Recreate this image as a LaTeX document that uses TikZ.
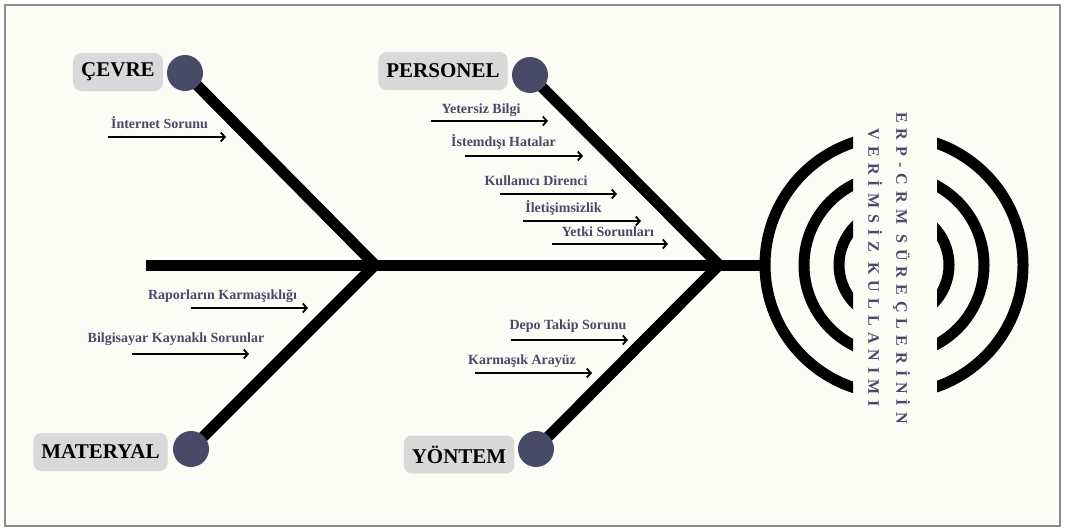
\documentclass[tikz,border=0pt]{standalone}
\usepackage{fontspec}
\setmainfont{Liberation Serif}
\newfontfamily\titlefont[LetterSpace=38]{Liberation Serif}
\usetikzlibrary{arrows.meta}
\definecolor{slate}{HTML}{484A68}
\definecolor{paper}{HTML}{FBFCF6}
\definecolor{tagc}{HTML}{D9D9D9}
\definecolor{framec}{HTML}{8C8C8C}
\pgfdeclarelayer{bg}
\pgfdeclarelayer{bones}
\pgfsetlayers{bg,bones,main}

% one cause: label node plus its arrow pointing at the bone
\newcommand\causeitem[7]{%
  \node[cause] (#1) at (#3,#4) {#2};
  \coordinate (#1-from) at (#5,#7);
  \coordinate (#1-to) at (#6,#7);
  \draw[ray] (#1-from) -- (#1-to);}

\begin{document}
\begin{tikzpicture}[x=1pt,y=-1pt,
  bone/.style={line width=11pt, line cap=butt, line join=miter},
  head/.style={circle, fill=slate, minimum size=36pt, inner sep=0pt},
  tag/.style={rounded corners=8pt, fill=tagc, text=black,
    font=\bfseries\fontsize{21}{21}\selectfont,
    minimum height=38pt, inner xsep=8pt},
  cause/.style={font=\bfseries\fontsize{14}{14}\selectfont, text=slate, inner sep=0pt},
  ray/.style={line width=1.8pt,
    -{Straight Barb[length=4pt, width=9pt, line width=1.8pt]}},
  ring/.style={line width=11pt}]

\useasboundingbox (0,0) rectangle (1065,530);
\begin{pgfonlayer}{bg}
  \fill[white] (0,0) rectangle (1065,530);
  \draw[framec, line width=1.5pt, fill=paper] (5,5) rectangle (1060,526);
\end{pgfonlayer}

% bone heads and category tags
\node[head] (cevreH) at (185,73) {};
\node[head] (personelH) at (530,75) {};
\node[head] (materyalH) at (191,449) {};
\node[head] (yontemH) at (536,449) {};

\node[tag] (cevre) at (118,72) {ÇEVRE};
\node[tag] (personel) at (443,71) {PERSONEL};
\node[tag] (materyal) at (100.5,452) {MATERYAL};
\node[tag] (yontem) at (459,454.5) {YÖNTEM};

% spine and bones
\coordinate (tail) at (146,265);
\coordinate (j1) at (375,265);
\coordinate (j2) at (719,265);
\coordinate (ring) at (766,265);
\begin{pgfonlayer}{bones}
  \draw[bone] (cevreH.center) -- (j1) -- (materyalH.center);
  \draw[bone] (personelH.center) -- (j2) -- (yontemH.center);
  \draw[bone] (tail) -- (j1) -- (j2) -- (ring);
\end{pgfonlayer}

% concentric rings split by the title band
\begin{scope}
  \clip (0,0) rectangle (853,530) (937,0) rectangle (1065,530);
  \foreach \r in {55,90,129}
    \draw[ring] (894,265) circle[radius=\r];
\end{scope}

\node[rotate=-90, align=center, text=slate, inner sep=0pt,
  font=\titlefont\bfseries\fontsize{16}{28}\selectfont] (title) at (889,268)
  {ERP-CRM SÜREÇLERİNİN\\VERİMSİZ KULLANIMI};

% causes
\causeitem{internet}{İnternet Sorunu}{159.5}{123}{108}{226}{137}
\causeitem{yetersiz}{Yetersiz Bilgi}{481}{110}{431}{548}{121}
\causeitem{istemdisi}{İstemdışı Hatalar}{503.5}{142}{465}{583}{156}
\causeitem{direnc}{Kullanıcı Direnci}{536}{181}{500}{617}{194}
\causeitem{iletisim}{İletişimsizlik}{563.5}{208}{523}{641}{221}
\causeitem{yetki}{Yetki Sorunları}{608}{232}{552}{668}{244}
\causeitem{rapor}{Raporların Karmaşıklığı}{222.5}{296}{191}{308}{308}
\causeitem{bilgisayar}{Bilgisayar Kaynaklı Sorunlar}{176}{339}{132}{249}{354}
\causeitem{depo}{Depo Takip Sorunu}{568}{326}{511}{628}{340}
\causeitem{arayuz}{Karmaşık Arayüz}{522}{361}{475}{592}{373}
\end{tikzpicture}
\end{document}
